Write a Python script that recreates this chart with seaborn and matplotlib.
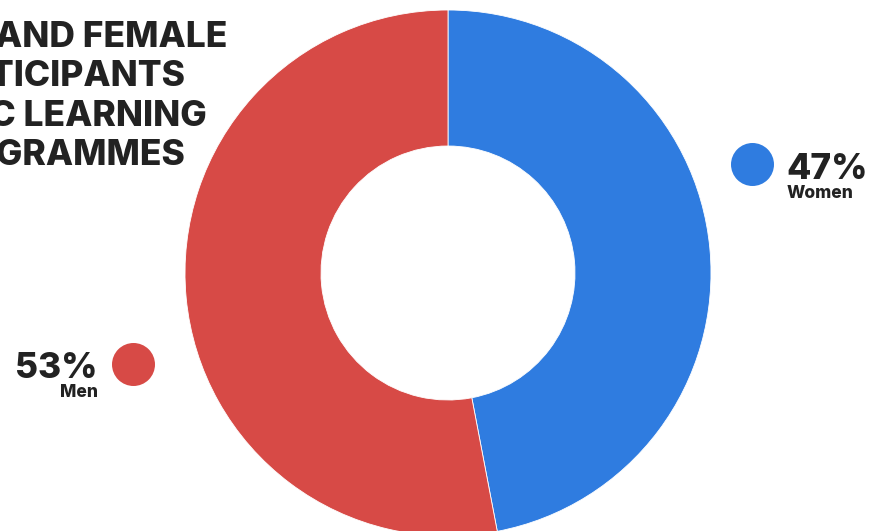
import matplotlib
matplotlib.use("Agg")
import matplotlib.pyplot as plt
import seaborn as sns

# Data
groups = ["Women", "Men"]
shares = [47, 53]
pct_labels = ["47%", "53%"]
title_lines = ["MALE AND FEMALE", "PARTICIPANTS", "IN PUBLIC LEARNING", "PROGRAMMES"]

sns.set_theme(style="white")
plt.rcParams["font.family"] = ["Inter", "DejaVu Sans"]

colors = ["#2F7CE0", "#D74A46"]
ink = "#222222"

W, H = 871, 531
fig = plt.figure(figsize=(W / 100, H / 100), dpi=100)
ax = fig.add_axes([0, 0, 1, 1])

# Donut (y axis runs downward, so angles grow clockwise on screen)
cx, cy, r_out, r_in = 448, 273, 263, 127
ax.pie(
    shares,
    colors=colors,
    startangle=-90,
    counterclock=True,
    center=(cx, cy),
    radius=r_out,
    wedgeprops=dict(width=r_out - r_in, edgecolor="white", linewidth=0.6),
    frame=True,
)
ax.set_xlim(0, W)
ax.set_ylim(H, 0)
ax.set_aspect("equal")
ax.axis("off")

# Title, each line right-anchored so the start runs off the left edge
title_right = [227, 185, 207, 185]
title_base = [47, 86, 126, 165]
for line, xr, yb in zip(title_lines, title_right, title_base):
    ax.text(xr, yb, line, ha="right", va="baseline", fontsize=25.5,
            fontweight="heavy", color=ink, clip_on=False)

# Legend markers with percentage labels
ax.scatter([752], [164], s=(2 * 21.5 * 0.72) ** 2, color=colors[0],
           linewidths=0, zorder=5)
ax.text(786, 179, pct_labels[0], ha="left", va="baseline", fontsize=25.5,
        fontweight="heavy", color=ink)
ax.text(787, 198, groups[0], ha="left", va="baseline", fontsize=12.5,
        fontweight="heavy", color=ink)

ax.scatter([133], [364], s=(2 * 21.5 * 0.72) ** 2, color=colors[1],
           linewidths=0, zorder=5)
ax.text(97, 378, pct_labels[1], ha="right", va="baseline", fontsize=25.5,
        fontweight="heavy", color=ink)
ax.text(98, 397, groups[1], ha="right", va="baseline", fontsize=12.5,
        fontweight="heavy", color=ink)

fig.savefig("out.png", dpi=100, facecolor="white")
